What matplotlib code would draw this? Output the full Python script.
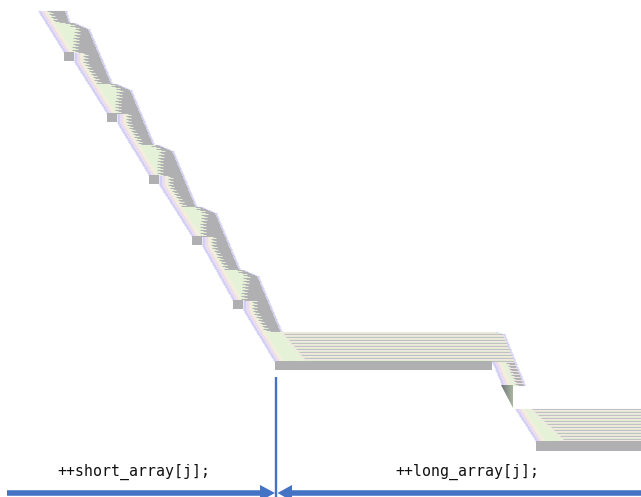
import numpy as np
import matplotlib
matplotlib.use("Agg")
import matplotlib.pyplot as plt
from matplotlib.patches import Polygon

# Colores
GRAY = "#b0b0b2"
LAV = "#d2cff7"
PINK = "#eddcec"
CREAM = "#f3edd9"
GREEN = "#e6f2d8"
STREAK = ["#bfbfc2", "#f2e8e2", "#e4eed6"]
BLUE = "#4472c4"

# Esquina superior derecha de cada escalon (px)
step_x = [88, 130, 172, 215, 257]
step_y = [28, 89, 150, 212, 275]
# Bloque gris de cada escalon (esquina sup. izq.)
block_x = [64, 107, 149, 192, 233]
block_y = [52, 113, 175, 236, 300]

labels = ["++short_array[j];", "++long_array[j];"]
label_x = [134, 467]
label_y = 472

x0s, x1s, ys, cs = [], [], [], []


def seg(y, a, b, c):
    if b > a:
        ys.append(y + 0.5)
        x0s.append(a)
        x1s.append(b)
        cs.append(c)


# Una fila de pixeles: banda arcoiris, zona palida, resto y borde derecho
def row(y, left, pale, right, rest):
    seg(y, left, left + 3, LAV)
    seg(y, left + 3, left + 6, PINK)
    seg(y, left + 6, left + 9, CREAM)
    seg(y, left + 9, max(pale, left + 9), GREEN)
    seg(y, max(pale, left + 9), right, rest)
    seg(y, right, right + 1.5, LAV)


# Borde izquierdo de la diagonal: tramos paralelos entre bloques
def left_diag(y):
    xs_a = [38] + [b + 10 for b in block_x]
    ys_a = [10] + [b + 9 for b in block_y]
    xs_b = block_x + [275]
    ys_b = block_y + [362]
    for xa, ya, xb, yb in zip(xs_a, ys_a, xs_b, ys_b):
        if y < yb:
            return xa + (xb - xa) * max(y - ya, 0) / (yb - ya)
    return 275


# Borde derecho de la diagonal
def right_diag(y):
    if y < 22:
        return 65 + (y - 10) * 0.33
    k = -1
    for i, sy in enumerate(step_y):
        if y >= sy - 6:
            k = i
    sx, sy = step_x[k], step_y[k]
    if y < sy:
        return sx - 14 + (y - (sy - 6)) * 14 / 6
    return sx + (y - sy) * 0.42


# Tramo diagonal
for y in range(10, 331):
    l = left_diag(y)
    r = right_diag(y)
    p = l + 11
    for sx, sy in zip(step_x, step_y):
        if sy - 6 <= y < sy + 25:
            t = (y - (sy - 6)) / 31
            p = max((r - 6) * (1 - t) + (l + 11) * t, l + 11)
    p += [3, -3, 0][y % 3]
    row(y, l, min(p, r), r, GRAY)

# Primer tramo horizontal
for y in range(331, 361):
    l = left_diag(y)
    t = (y - 331) / 30
    p = 280 + 25 * t + [2, -2, 0][y % 3]
    r = min(496 + (y - 331) * 3.5, 503 + (y - 333) * 0.405)
    row(y, l, p, r, STREAK[y % 3])

# Parte baja de la segunda diagonal
for y in range(361, 385):
    l = 492 + (y - 361) * 0.42
    r = 503 + (y - 333) * 0.405
    p = l + 14 + [2, -2, 0][y % 3]
    row(y, l, min(p, r), r, [GRAY, "#efe4e4", GRAY][y % 3])

# Segundo tramo horizontal
for y in range(408, 441):
    l = 515 + (y - 408) * 0.64
    t = (y - 408) / 33
    p = 530 + 34 * t + [2, -2, 0][y % 3]
    row(y, l, p, 641, STREAK[y % 3])

fig = plt.figure(figsize=(6.41, 4.97), dpi=100)
ax = fig.add_axes([0, 0, 1, 1])
ax.set_xlim(0, 641)
ax.set_ylim(497, 0)
ax.axis("off")

ax.hlines(ys, x0s, x1s, colors=cs, linewidth=0.8, capstyle="butt", zorder=2)


def rect(x0, x1, y0, y1, color):
    ax.add_patch(Polygon([(x0, y0), (x1, y0), (x1, y1), (x0, y1)], closed=True,
                         fc=color, ec="none", zorder=3))


# Bloques grises y barras
for x, y in zip(block_x, block_y):
    rect(x, x + 10, y, y + 9, GRAY)
rect(275, 492, 361, 370, GRAY)
rect(536, 641, 441, 451, GRAY)

# Cuna oscura con degradado
grad = np.linspace(0, 1, 30).reshape(1, -1)
im = ax.imshow(grad, extent=(501, 513, 408, 385), cmap=matplotlib.colors.LinearSegmentedColormap.from_list(
    "cuna", ["#6f7478", "#a9b5a0"]), aspect="auto", zorder=3)
wedge = Polygon([(501, 385), (513, 385), (513, 408)], closed=True, transform=ax.transData, fc="none", ec="none")
ax.add_patch(wedge)
im.set_clip_path(wedge)
ax.set_xlim(0, 641)
ax.set_ylim(497, 0)

# Flechas azules
ax.plot([276, 276], [377, 497], color=BLUE, lw=1.7, zorder=7, solid_capstyle="butt")
ax.plot([7, 262], [493, 493], color=BLUE, lw=4, zorder=7, solid_capstyle="butt")
ax.plot([290, 641], [493, 493], color=BLUE, lw=4, zorder=7, solid_capstyle="butt")
ax.add_patch(Polygon([(260, 485), (275, 493), (260, 501)], closed=True, fc=BLUE, ec="none", zorder=7))
ax.add_patch(Polygon([(292, 485), (277.5, 493), (292, 501)], closed=True, fc=BLUE, ec="none", zorder=7))

# Textos
for s, x in zip(labels, label_x):
    ax.text(x, label_y, s, family="DejaVu Sans Mono", fontsize=10.7,
            ha="center", va="center", color="#111111", zorder=8)

fig.savefig("out.png", dpi=100)
